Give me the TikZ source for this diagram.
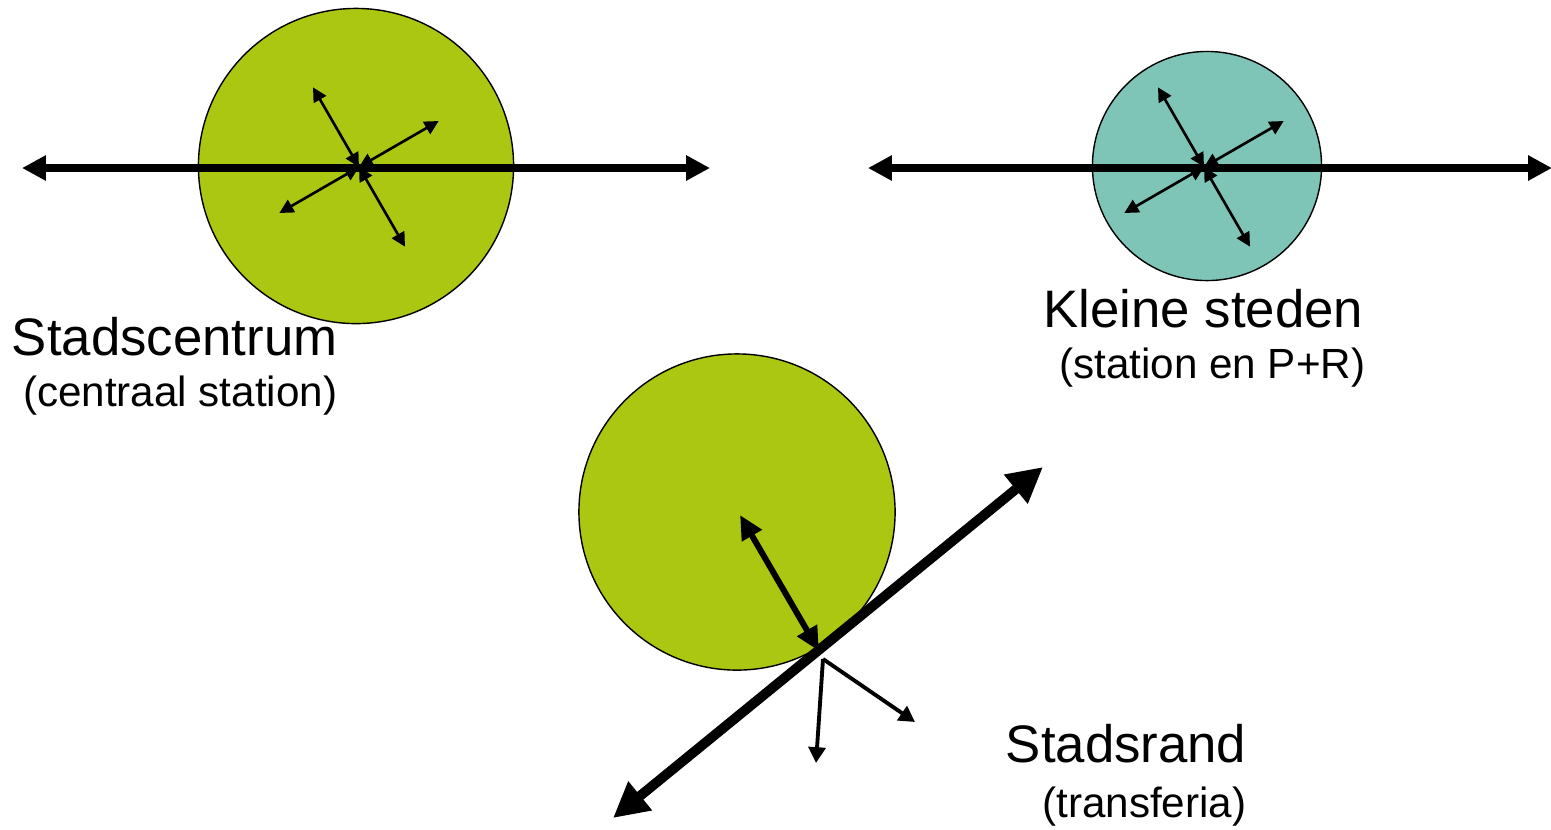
\documentclass[tikz,border=0pt]{standalone}
\usepackage{fontspec}
\setmainfont{Liberation Sans}
\usetikzlibrary{arrows.meta}
\definecolor{limeFill}{RGB}{172,199,17}
\definecolor{tealFill}{RGB}{127,197,183}

\begin{document}
\begin{tikzpicture}[
    x=0.01cm, y=-0.01cm,
    city/.style={circle, draw, line width=0.4pt, inner sep=0pt},
    road/.style={{Triangle[length=6.8pt,width=6.8pt]}-{Triangle[length=6.8pt,width=6.8pt]}, line width=2pt},
    spoke/.style={{Triangle[length=4pt,width=4pt]}-{Triangle[length=4pt,width=4pt]}, line width=0.75pt},
    highway/.style={{Triangle[length=10pt,width=10pt]}-{Triangle[length=10pt,width=10pt]}, line width=2.8pt},
    feeder/.style={{Triangle[length=6.8pt,width=6.2pt]}-{Triangle[length=6.8pt,width=6.2pt]}, line width=1.7pt},
    exit/.style={-{Triangle[length=4.5pt,width=4.8pt]}, line width=1.1pt},
    title/.style={anchor=base east, inner sep=0pt, font=\fontsize{15}{18}\selectfont},
    subtitle/.style={anchor=base east, inner sep=0pt, font=\fontsize{12}{14}\selectfont}
]
\useasboundingbox (0,0) rectangle (1551,829);

% Stadscentrum
\node[city, fill=limeFill, minimum size=3.15cm] (centrum) at (356,166) {};
\coordinate (hub1) at (359,167);
\coordinate (west1) at (22,168);
\coordinate (east1) at (710,168);
\draw[road] (west1) -- (east1);
\foreach \a in {30,120,210,300}
  \draw[spoke] (hub1) -- ++(-\a:92);
\node[title] (centrumlabel) at (338,355) {Stadscentrum};
\node[subtitle] (centrumsub) at (338,406) {(centraal station)};

% Kleine steden
\node[city, fill=tealFill, minimum size=2.29cm] (steden) at (1207,166) {};
\coordinate (hub2) at (1204,167);
\coordinate (west2) at (868,168);
\coordinate (east2) at (1552,168);
\draw[road] (west2) -- (east2);
\foreach \a in {30,120,210,300}
  \draw[spoke] (hub2) -- ++(-\a:92);
\node[title] (stedenlabel) at (1364,327) {Kleine steden};
\node[subtitle] (stedensub) at (1366,378) {(station en P+R)};

% Stadsrand
\node[city, fill=limeFill, minimum size=3.16cm] (rand) at (737,512) {};
\coordinate (junction) at (819,651);
\coordinate (sw3) at (613,818);
\coordinate (ne3) at (1043,467);
\coordinate (inner3) at (740,515);
\coordinate (hub3) at (823,659);
\coordinate (south3) at (816,763);
\coordinate (southeast3) at (915,722);
\draw[highway] (sw3) -- (ne3);
\draw[feeder] (junction) -- (inner3);
\draw[exit] (hub3) -- (south3);
\draw[exit] (hub3) -- (southeast3);
\node[title] (randlabel) at (1247,762) {Stadsrand};
\node[subtitle] (randsub) at (1247,817) {(transferia)};
\end{tikzpicture}
\end{document}
